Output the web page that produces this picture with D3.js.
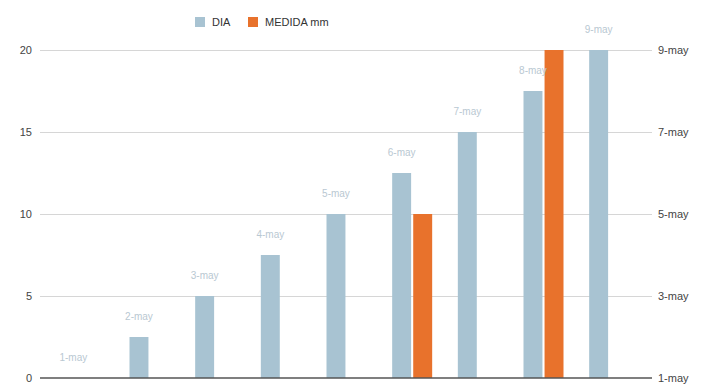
<!DOCTYPE html>
<meta charset="utf-8">
<style>
    body {margin: 0; background: #fff; font-family: 'Liberation Sans', Arial, sans-serif;}
</style>

<svg width="703" height="387"></svg>

<script src="https://cdnjs.cloudflare.com/ajax/libs/d3/7.8.5/d3.min.js"></script>
<script>

// data
var categories = ["1-may", "2-may", "3-may", "4-may", "5-may", "6-may", "7-may", "8-may", "9-may"];
var diaDays = [1, 2, 3, 4, 5, 6, 7, 8, 9];              // DIA, on the right axis (day of May)
var medida = [null, null, null, null, null, 10, null, 20, null]; // MEDIDA mm, left axis
var leftTicks = [0, 5, 10, 15, 20];
var rightTicks = [1, 3, 5, 7, 9];
var rightTickLabels = ["1-may", "3-may", "5-may", "7-may", "9-may"];
var series = ["DIA", "MEDIDA mm"];

var svg = d3.select("svg"),
    width = +svg.attr("width"),
    height = +svg.attr("height");

var colors = {"DIA": "#a8c3d2", "MEDIDA mm": "#e8722c"};

var x = d3.scaleBand()
    .domain(categories)
    .range([50, 641]);

var inner = d3.scaleBand()
    .domain(series)
    .range([x.bandwidth() / 2 - 19, x.bandwidth() / 2 + 21])
    .paddingInner(0.1);

var y = d3.scaleLinear().domain([0, 20]).range([378, 50]);
var yRight = d3.scaleLinear().domain([1, 9]).range([378, 50]);

// GRIDLINES
svg.append("g")
    .selectAll("line")
    .data(leftTicks.slice(1))
    .enter().append("line")
    .attr("x1", 40)
    .attr("x2", 652)
    .attr("y1", function(d) { return Math.round(y(d)) + 0.5; })
    .attr("y2", function(d) { return Math.round(y(d)) + 0.5; })
    .style("stroke", "#d6d6d6")
    .style("stroke-width", 1);

// LEFT AXIS
var leftAxis = svg.append("g")
    .attr("transform", "translate(32,0)")
    .call(d3.axisLeft(y).tickValues(leftTicks).tickSize(0).tickPadding(0));
leftAxis.select(".domain").remove();
leftAxis.selectAll("text")
    .style("font-family", "'Liberation Sans', Arial, sans-serif")
    .style("font-size", "11px")
    .style("fill", "#444");

// RIGHT AXIS
var rightAxis = svg.append("g")
    .attr("transform", "translate(658,0)")
    .call(d3.axisRight(yRight).tickValues(rightTicks).tickSize(0).tickPadding(0)
        .tickFormat(function(d, i) { return rightTickLabels[i]; }));
rightAxis.select(".domain").remove();
rightAxis.selectAll("text")
    .style("font-family", "'Liberation Sans', Arial, sans-serif")
    .style("font-size", "11px")
    .style("fill", "#444");

// BARS
var groups = svg.append("g")
    .selectAll("g")
    .data(categories)
    .enter().append("g")
    .attr("transform", function(d) { return "translate(" + x(d) + ",0)"; });

groups.append("rect")
    .attr("x", inner("DIA"))
    .attr("width", inner.bandwidth())
    .attr("y", function(d, i) { return yRight(diaDays[i]); })
    .attr("height", function(d, i) { return yRight(1) - yRight(diaDays[i]); })
    .style("fill", colors["DIA"]);

groups.filter(function(d, i) { return medida[i] != null; })
    .append("rect")
    .attr("x", inner("MEDIDA mm"))
    .attr("width", inner.bandwidth())
    .attr("y", function(d) { return y(medida[categories.indexOf(d)]); })
    .attr("height", function(d) { return y(0) - y(medida[categories.indexOf(d)]); })
    .style("fill", colors["MEDIDA mm"]);

// BAR LABELS
groups.append("text")
    .attr("x", inner("DIA") + inner.bandwidth() / 2)
    .attr("y", function(d, i) { return yRight(diaDays[i]) - 17; })
    .attr("text-anchor", "middle")
    .style("font-size", "10px")
    .style("fill", "#b9c8d2")
    .text(function(d) { return d; });

// BASELINE
svg.append("line")
    .attr("x1", 40)
    .attr("x2", 652)
    .attr("y1", y(0))
    .attr("y2", y(0))
    .style("stroke", "#555")
    .style("stroke-width", 1.5);

// LEGEND
var legend = svg.append("g");
var legendX = [195, 248];
series.forEach(function(s, i) {
    legend.append("rect")
        .attr("x", legendX[i])
        .attr("y", 17)
        .attr("width", 10)
        .attr("height", 10)
        .style("fill", colors[s]);
    legend.append("text")
        .attr("x", legendX[i] + 17)
        .attr("y", 26)
        .style("font-size", "11px")
        .style("fill", "#333")
        .text(s);
});

</script>
